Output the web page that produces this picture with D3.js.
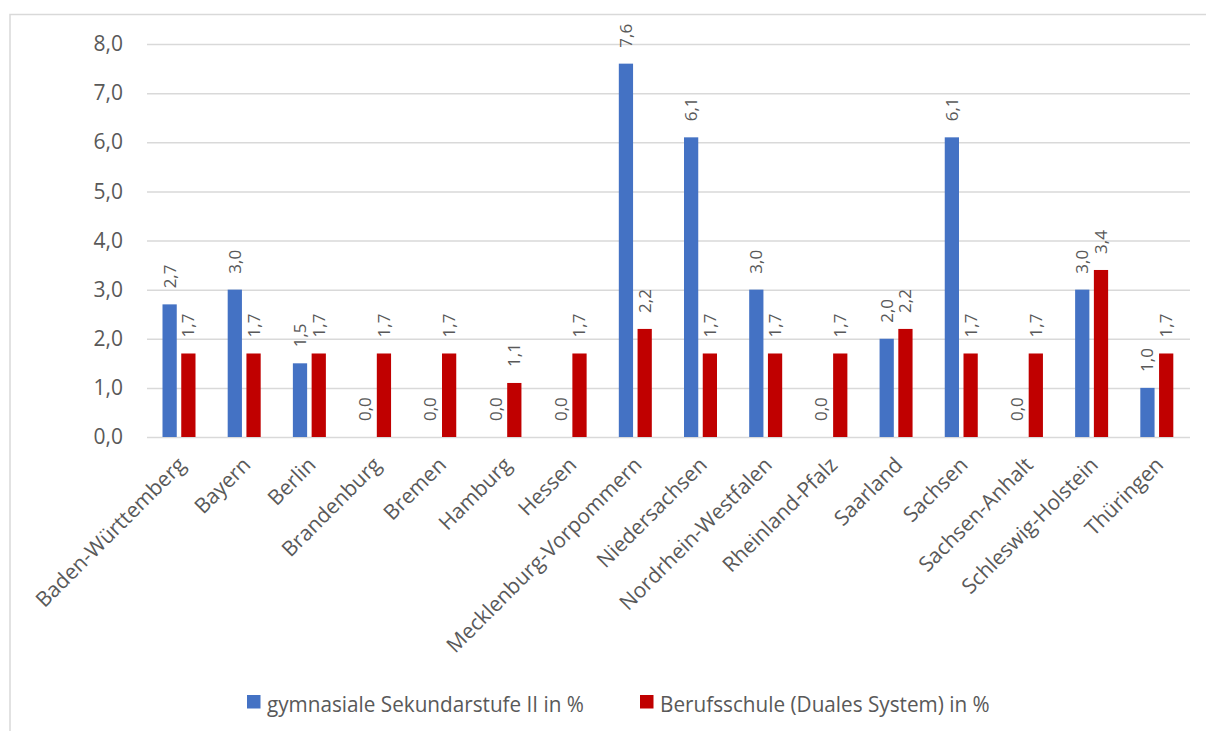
<!DOCTYPE html>
<html>
<head>
<meta charset="utf-8">
<script src="https://cdn.jsdelivr.net/npm/d3@7"></script>
<style>
  body { margin: 0; background: #fff; }
  svg { display: block; font-family: "Open Sans", sans-serif; }
</style>
</head>
<body>
<div id="chart"></div>
<script>
var LAENDER = ["Baden-Württemberg", "Bayern", "Berlin", "Brandenburg", "Bremen", "Hamburg", "Hessen",
  "Mecklenburg-Vorpommern", "Niedersachsen", "Nordrhein-Westfalen", "Rheinland-Pfalz", "Saarland",
  "Sachsen", "Sachsen-Anhalt", "Schleswig-Holstein", "Thüringen"];
var GYMNASIAL = [2.7, 3.0, 1.5, 0.0, 0.0, 0.0, 0.0, 7.6, 6.1, 3.0, 0.0, 2.0, 6.1, 0.0, 3.0, 1.0];
var BERUFSSCHULE = [1.7, 1.7, 1.7, 1.7, 1.7, 1.1, 1.7, 2.2, 1.7, 1.7, 1.7, 2.2, 1.7, 1.7, 3.4, 1.7];
var SERIES = ["gymnasiale Sekundarstufe II in %", "Berufsschule (Duales System) in %"];
var Y_TICKS = [0, 1, 2, 3, 4, 5, 6, 7, 8];

var W = 1206, H = 731;
var COLORS = ['#4472c4', '#c00000'];
var TEXT = '#595959';
var fmt = v => d3.format('.1f')(v).replace('.', ',');

var svg = d3.select('#chart').append('svg')
    .attr('width', W)
    .attr('height', H);

// chart frame (only top and left edge visible in the shot)
svg.append('rect')
    .attr('x', 10).attr('y', 14.5)
    .attr('width', W + 20).attr('height', H + 20)
    .attr('fill', 'none')
    .attr('stroke', '#d9d9d9')
    .attr('stroke-width', 1.5);

var x = d3.scaleBand().domain(LAENDER).range([147, 1190]);
var inner = d3.scaleBand().domain([0, 1]).range([15.5, 48.5]).paddingInner(0.24);
var y = d3.scaleLinear().domain([0, 8]).range([437, 44]);

// gridlines
svg.append('g')
    .attr('transform', 'translate(147,0)')
    .call(d3.axisLeft(y).tickValues(Y_TICKS).tickSize(-(1190 - 147)).tickFormat(''))
    .call(g => g.select('.domain').remove())
    .call(g => g.selectAll('line').attr('stroke', '#d9d9d9').attr('stroke-width', 1.5));

// y tick labels
svg.append('g')
    .attr('transform', 'translate(123,0)')
    .call(d3.axisLeft(y).tickValues(Y_TICKS).tickSize(0).tickPadding(0).tickFormat(fmt))
    .call(g => g.select('.domain').remove())
    .call(g => g.selectAll('text')
        .attr('fill', TEXT)
        .attr('font-size', 21)
        .attr('font-family', '"Open Sans", sans-serif'));

// bars
var groups = [GYMNASIAL, BERUFSSCHULE];
groups.forEach(function(vals, s) {
  var g = svg.append('g');
  g.selectAll('rect')
    .data(vals)
    .join('rect')
      .attr('x', (d, i) => x(LAENDER[i]) + inner(s))
      .attr('y', d => y(d))
      .attr('width', inner.bandwidth())
      .attr('height', d => y(0) - y(d))
      .attr('fill', COLORS[s]);

  g.selectAll('text')
    .data(vals)
    .join('text')
      .attr('transform', (d, i) => 'translate(' + (x(LAENDER[i]) + inner(s) + inner.bandwidth() / 2) + ',' + (y(d) - 16) + ') rotate(-90)')
      .attr('dy', '0.35em')
      .attr('fill', TEXT)
      .attr('font-size', 17)
      .text(fmt);
});

// category labels
svg.append('g')
  .selectAll('text')
  .data(LAENDER)
  .join('text')
    .attr('transform', d => 'translate(' + (x(d) + x.bandwidth() / 2 + 2) + ',461) rotate(-45)')
    .attr('text-anchor', 'end')
    .attr('dy', '0.35em')
    .attr('fill', TEXT)
    .attr('font-size', 21)
    .text(d => d);

// legend - the original font is a bit narrower, so fit Open Sans to the measured width
var legendX = [247, 640];
var legendW = [317, 330];
var legend = svg.append('g');
SERIES.forEach(function(name, i) {
  legend.append('rect')
    .attr('x', legendX[i]).attr('y', 695)
    .attr('width', 13.5).attr('height', 13.5)
    .attr('fill', COLORS[i]);
  var t = legend.append('text')
    .attr('fill', TEXT)
    .attr('font-size', 22)
    .text(name);
  var sx = legendW[i] / t.node().getComputedTextLength();
  t.attr('transform', 'translate(' + (legendX[i] + 20) + ',712) scale(' + sx + ',1)');
});
</script>
</body>
</html>
